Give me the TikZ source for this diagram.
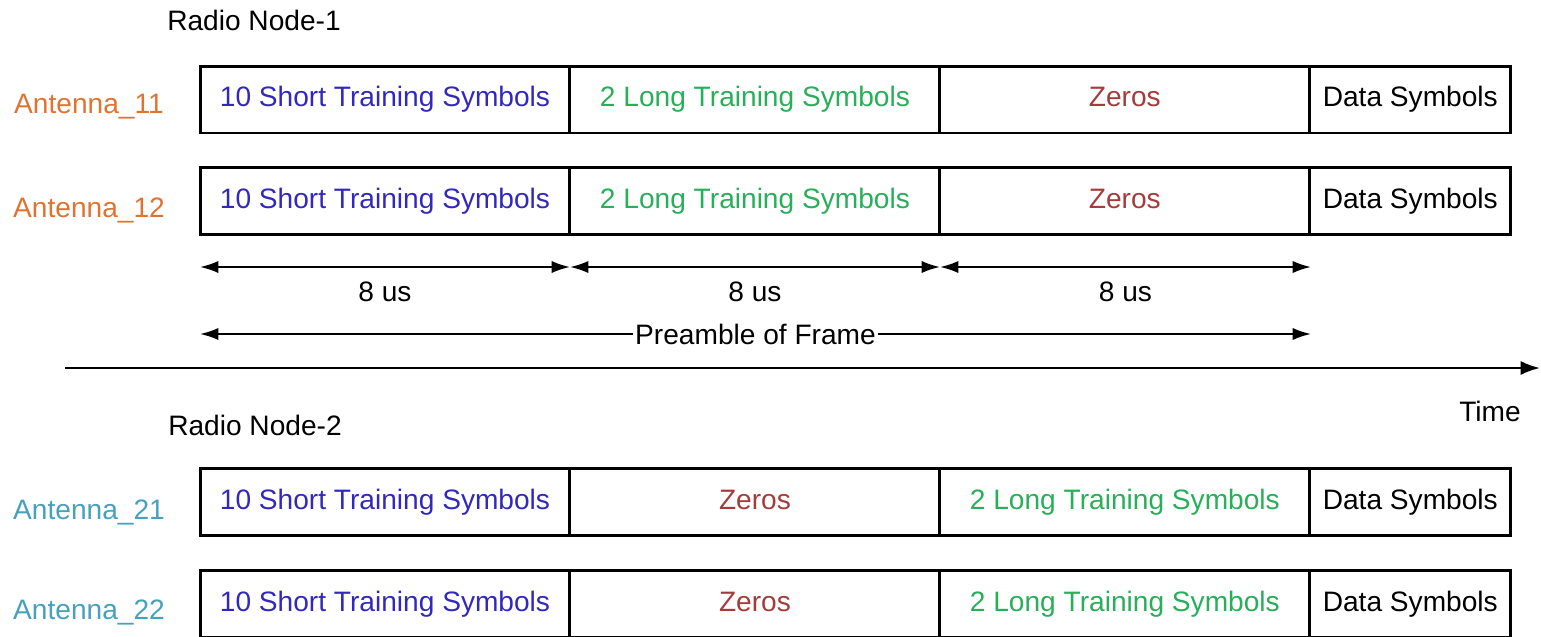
\documentclass[tikz,border=0pt]{standalone}
\usepackage{fontspec}
\setmainfont{Liberation Sans}
\usetikzlibrary{arrows,arrows.meta,positioning,calc}
\definecolor{stsblue}{RGB}{50,40,190}
\definecolor{ltsgreen}{RGB}{40,175,90}
\definecolor{zerored}{RGB}{165,60,60}
\definecolor{antorange}{RGB}{225,115,50}
\definecolor{antteal}{RGB}{70,160,190}
\tikzstyle{txt}=[inner sep=0pt,font=\fontsize{16}{19}\selectfont]
\tikzstyle{field}=[txt,draw,line width=1.7pt,outer sep=0pt,minimum height=1.34cm,text height=11.5pt,text depth=3.5pt]
\tikzstyle{wide}=[field,minimum width=7.4cm]
\tikzstyle{datafield}=[field,minimum width=4.02cm]
\tikzstyle{dim}=[line width=1.2pt,{Latex[length=10.5pt,width=7pt]}-{Latex[length=10.5pt,width=7pt]}]

\begin{document}
\begin{tikzpicture}[x=0.02cm,y=-0.02cm]
\useasboundingbox (0,0) rectangle (1541,636);

% radio node 1
\node [txt] (rn1) at (254,20) {Radio Node-1};
\node [txt,text=antorange] (an11) at (89,107) {Antenna\_11};
\node [wide,text=stsblue] (a11s) at (385,99.5) {10 Short Training Symbols};
\node [wide,text=ltsgreen,right=0pt of a11s] (a11l) {2 Long Training Symbols};
\node [wide,text=zerored,right=0pt of a11l] (a11z) {Zeros};
\node [datafield,right=0pt of a11z] (a11d) {Data Symbols};

\node [txt,text=antorange] (an12) at (89,210) {Antenna\_12};
\node [wide,text=stsblue] (a12s) at (385,201) {10 Short Training Symbols};
\node [wide,text=ltsgreen,right=0pt of a12s] (a12l) {2 Long Training Symbols};
\node [wide,text=zerored,right=0pt of a12l] (a12z) {Zeros};
\node [datafield,right=0pt of a12z] (a12d) {Data Symbols};

% durations
\coordinate (d0) at (200,267);
\coordinate (d1) at (570,267);
\coordinate (d2) at (940,267);
\coordinate (d3) at (1311,267);
\draw [dim] (d0) -- node [txt,below=8pt] (us1) {8 us} (d1);
\draw [dim] (d1) -- node [txt,below=8pt] (us2) {8 us} (d2);
\draw [dim] (d2) -- node [txt,below=8pt] (us3) {8 us} (d3);

\coordinate (p0) at (200,334);
\coordinate (p1) at (1311,334);
\draw [dim] (p0) -- node [txt,fill=white,inner xsep=1pt] (pre) {Preamble of Frame} (p1);

% time axis
\coordinate (t0) at (65,368);
\coordinate (t1) at (1540,368);
\draw [line width=1.4pt,-{Latex[length=11pt,width=8pt]}] (t0) -- (t1);
\node [txt] (time) at (1490,411) {Time};

% radio node 2
\node [txt] (rn2) at (255,425) {Radio Node-2};
\node [txt,text=antteal] (an21) at (89,512) {Antenna\_21};
\node [wide,text=stsblue] (a21s) at (385,502) {10 Short Training Symbols};
\node [wide,text=zerored,right=0pt of a21s] (a21z) {Zeros};
\node [wide,text=ltsgreen,right=0pt of a21z] (a21l) {2 Long Training Symbols};
\node [datafield,right=0pt of a21l] (a21d) {Data Symbols};

\node [txt,text=antteal] (an22) at (89,612) {Antenna\_22};
\node [wide,text=stsblue] (a22s) at (385,604) {10 Short Training Symbols};
\node [wide,text=zerored,right=0pt of a22s] (a22z) {Zeros};
\node [wide,text=ltsgreen,right=0pt of a22z] (a22l) {2 Long Training Symbols};
\node [datafield,right=0pt of a22l] (a22d) {Data Symbols};
\end{tikzpicture}
\end{document}
